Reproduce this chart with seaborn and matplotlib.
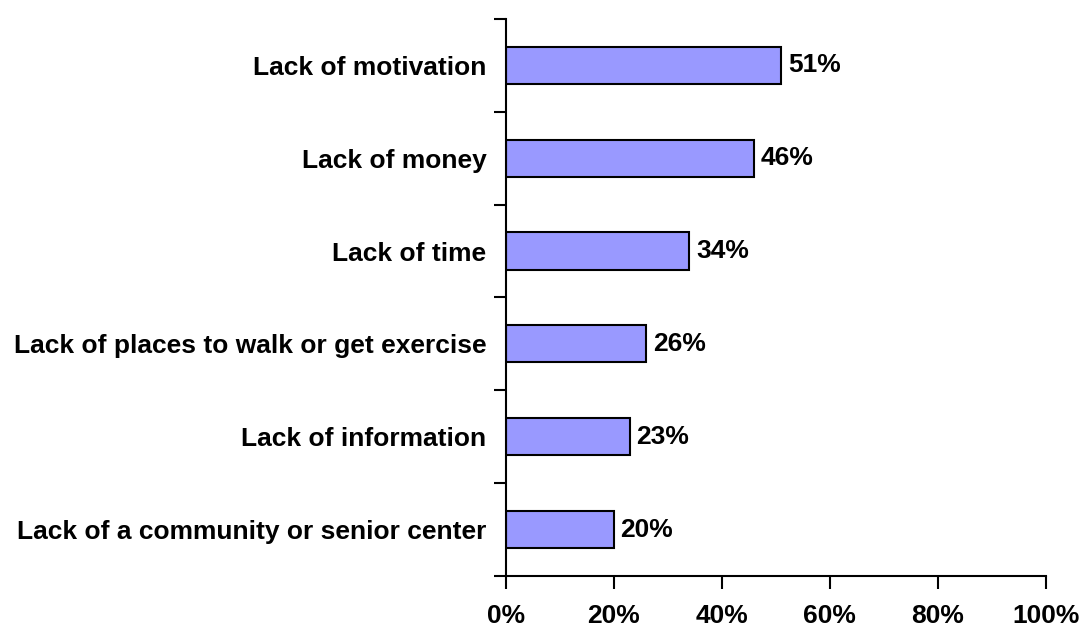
import numpy as np
import pandas as pd
import matplotlib
matplotlib.use("Agg")
import matplotlib.pyplot as plt
import seaborn as sns

categories = ['Lack of motivation', 'Lack of money', 'Lack of time',
              'Lack of places to walk or get exercise', 'Lack of information',
              'Lack of a community or senior center']
values = [51, 46, 34, 26, 23, 20]
x_ticks = [0, 20, 40, 60, 80, 100]

df = pd.DataFrame({'reason': categories, 'pct': values})

sns.set_style('white')
plt.rcParams['font.family'] = ['Liberation Sans', 'DejaVu Sans']
plt.rcParams['font.weight'] = 'bold'
plt.rcParams['text.color'] = 'black'
plt.rcParams['xtick.color'] = 'black'
plt.rcParams['ytick.color'] = 'black'
plt.rcParams['axes.edgecolor'] = 'black'

fig = plt.figure(figsize=(10.81, 6.26), dpi=100)
ax = fig.add_axes([0.468, 0.080, 0.4995, 0.8897])

sns.barplot(data=df, x='pct', y='reason', orient='h', color='#9999FF',
            edgecolor='black', linewidth=1.5, width=0.4, saturation=1, ax=ax)

fs = 19
for i, v in enumerate(values):
    ax.text(v + 1.2, i, f'{v}%', va='center', ha='left',
            fontsize=fs, fontweight='bold', color='black')

ax.set_xlim(0, 100)
ax.set_ylim(len(categories) - 0.5, -0.5)
ax.set_xticks(x_ticks)
ax.set_xticklabels([f'{t}%' for t in x_ticks], fontsize=fs, fontweight='bold')
ax.set_yticklabels(categories, fontsize=fs, fontweight='bold')
ax.set_yticks(np.arange(-0.5, len(categories), 1), minor=True)
ax.tick_params(axis='y', which='major', length=0, pad=14)
ax.tick_params(axis='y', which='minor', length=9, width=1.5, direction='out', left=True)
ax.tick_params(axis='x', length=9, width=1.5, direction='out', bottom=True, pad=11)
ax.set_xlabel('')
ax.set_ylabel('')

sns.despine(ax=ax)
for s in ['left', 'bottom']:
    ax.spines[s].set_linewidth(1.5)

fig.savefig('out.png', dpi=100)
